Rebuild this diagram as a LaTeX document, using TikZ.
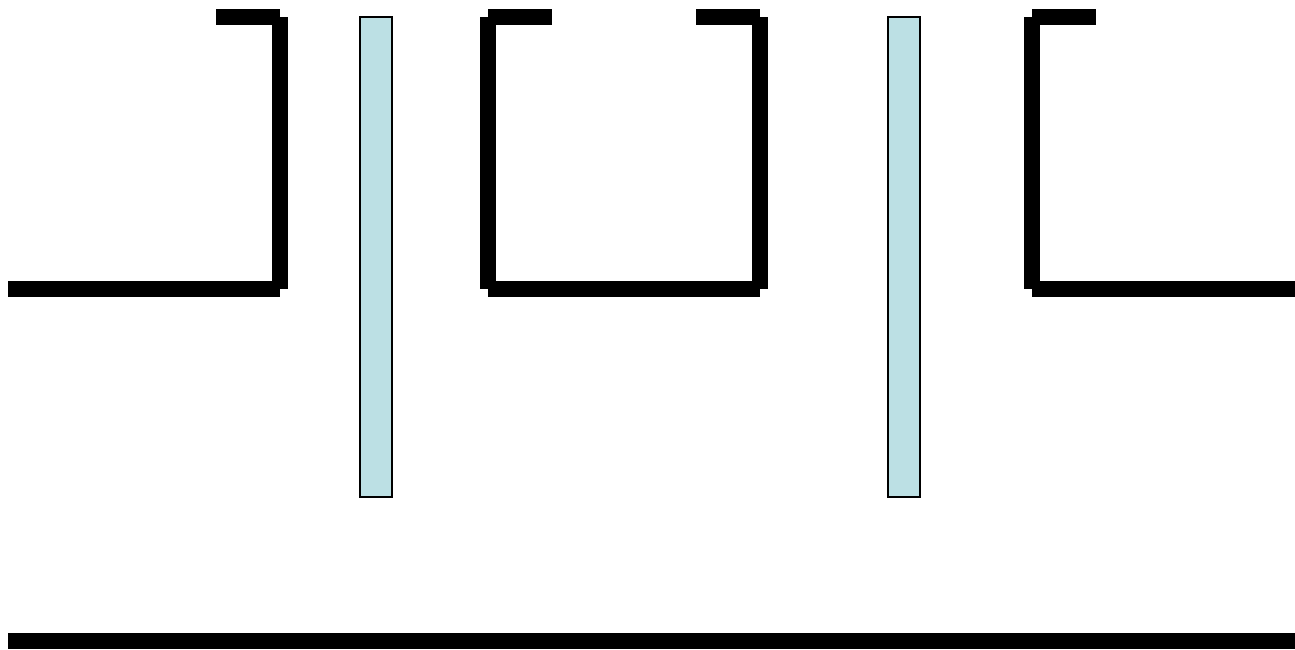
\documentclass[tikz,border=0pt]{standalone}
\usepackage{xcolor}
\usepackage{tikz}
\definecolor{platecyan}{RGB}{188,224,228}

\begin{document}
\begin{tikzpicture}[
    x=1pt, y=-1pt,
    wall/.style={line width=16pt, line cap=butt},
    plate/.style={draw, fill=platecyan, line width=2pt},
  ]
    \useasboundingbox (0,0) rectangle (1295,649);

    % left section
    \draw[wall] (216,17) -- (280,17);
    \draw[wall] (280,17) -- (280,289);
    \draw[wall] (8,289) -- (280,289);

    % middle section
    \draw[wall] (488,17) -- (552,17);
    \draw[wall] (488,17) -- (488,289);
    \draw[wall] (488,289) -- (760,289);
    \draw[wall] (696,17) -- (760,17);
    \draw[wall] (760,17) -- (760,289);

    % right section
    \draw[wall] (1032,17) -- (1096,17);
    \draw[wall] (1032,17) -- (1032,289);
    \draw[wall] (1032,289) -- (1295,289);

    % plates
    \draw[plate] (360,17) rectangle (392,497);
    \draw[plate] (888,17) rectangle (920,497);

    % base line
    \draw[wall] (8,641) -- (1295,641);
  \end{tikzpicture}
\end{document}
